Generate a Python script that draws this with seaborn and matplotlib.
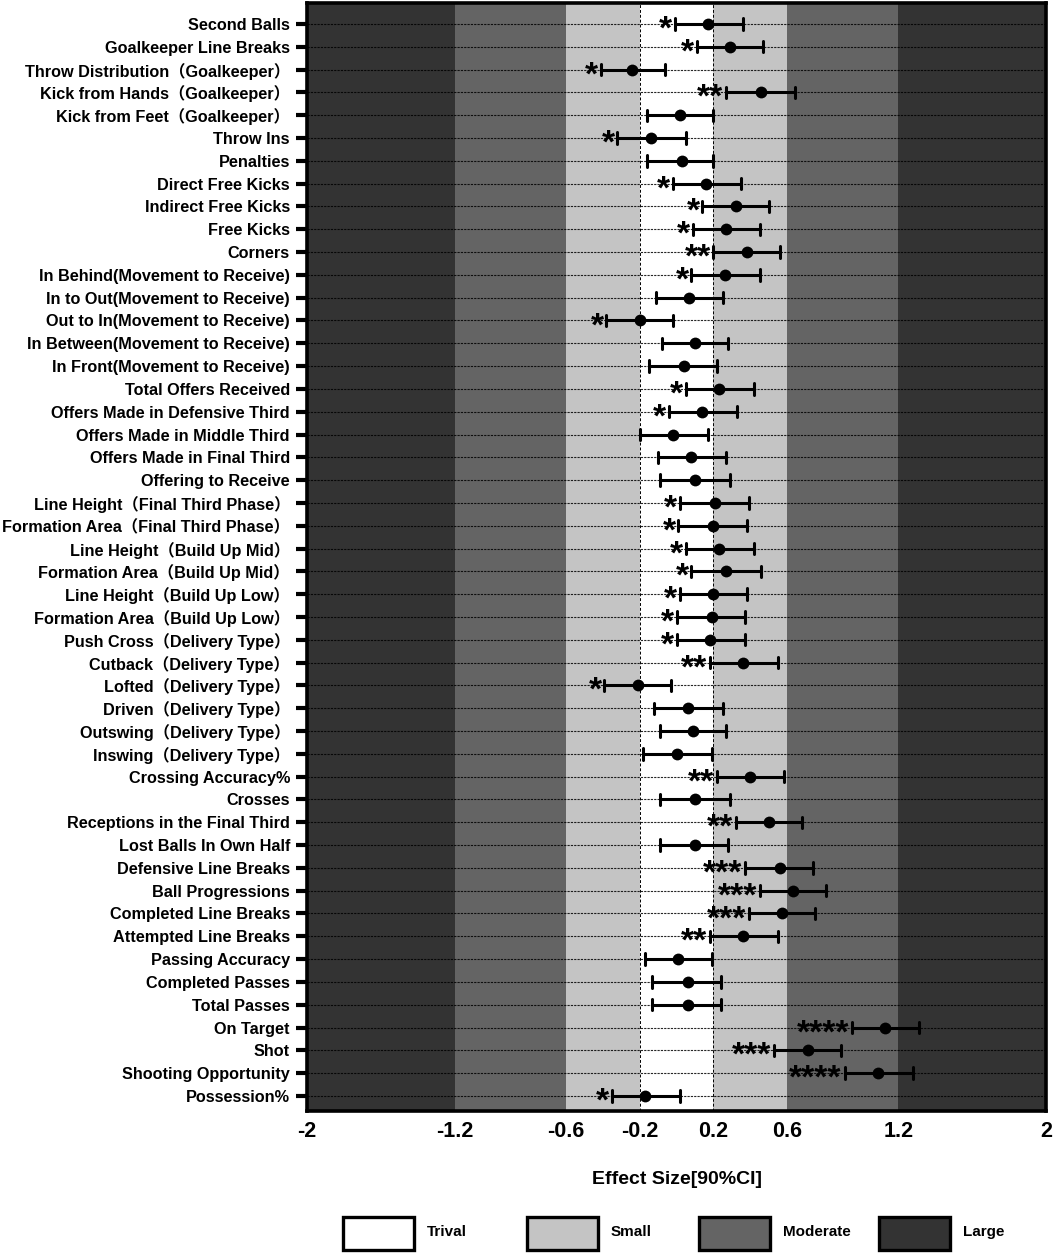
import numpy as np
import pandas as pd
import matplotlib
matplotlib.use("Agg")
import matplotlib.pyplot as plt
from matplotlib.patches import Rectangle
import seaborn as sns

metrics = [
    "Second Balls", "Goalkeeper Line Breaks", "Throw Distribution（Goalkeeper）",
    "Kick from Hands（Goalkeeper）", "Kick from Feet（Goalkeeper）", "Throw Ins",
    "Penalties", "Direct Free Kicks", "Indirect Free Kicks", "Free Kicks", "Corners",
    "In Behind(Movement to Receive)", "In to Out(Movement to Receive)",
    "Out to In(Movement to Receive)", "In Between(Movement to Receive)",
    "In Front(Movement to Receive)", "Total Offers Received",
    "Offers Made in Defensive Third", "Offers Made in Middle Third",
    "Offers Made in Final Third", "Offering to Receive",
    "Line Height（Final Third Phase）", "Formation Area（Final Third Phase）",
    "Line Height（Build Up Mid）", "Formation Area（Build Up Mid）",
    "Line Height（Build Up Low）", "Formation Area（Build Up Low）",
    "Push Cross（Delivery Type）", "Cutback（Delivery Type）", "Lofted（Delivery Type）",
    "Driven（Delivery Type）", "Outswing（Delivery Type）", "Inswing（Delivery Type）",
    "Crossing Accuracy%", "Crosses", "Receptions in the Final Third",
    "Lost Balls In Own Half", "Defensive Line Breaks", "Ball Progressions",
    "Completed Line Breaks", "Attempted Line Breaks", "Passing Accuracy",
    "Completed Passes", "Total Passes", "On Target", "Shot",
    "Shooting Opportunity", "Possession%",
]
effect = [0.17, 0.29, -0.24, 0.46, 0.02, -0.14, 0.03, 0.16, 0.32, 0.27, 0.38,
          0.26, 0.07, -0.20, 0.10, 0.04, 0.23, 0.14, -0.02, 0.08, 0.10,
          0.21, 0.20, 0.23, 0.27, 0.20, 0.19, 0.18, 0.36, -0.21, 0.06, 0.09, 0.00,
          0.40, 0.10, 0.50, 0.10, 0.56, 0.63, 0.57, 0.36, 0.01, 0.06, 0.06,
          1.13, 0.71, 1.09, -0.17]
ci_low = [-0.01, 0.11, -0.41, 0.27, -0.16, -0.32, -0.16, -0.02, 0.14, 0.09, 0.20,
          0.08, -0.11, -0.38, -0.08, -0.15, 0.05, -0.04, -0.20, -0.10, -0.09,
          0.02, 0.01, 0.05, 0.08, 0.02, 0.00, 0.00, 0.18, -0.39, -0.12, -0.09, -0.18,
          0.22, -0.09, 0.32, -0.09, 0.37, 0.45, 0.39, 0.18, -0.17, -0.13, -0.13,
          0.95, 0.53, 0.91, -0.35]
ci_high = [0.36, 0.47, -0.06, 0.64, 0.20, 0.05, 0.20, 0.35, 0.50, 0.45, 0.56,
           0.45, 0.25, -0.02, 0.28, 0.22, 0.42, 0.33, 0.17, 0.27, 0.29,
           0.39, 0.38, 0.42, 0.46, 0.38, 0.37, 0.37, 0.55, -0.03, 0.25, 0.27, 0.19,
           0.58, 0.29, 0.68, 0.28, 0.74, 0.81, 0.75, 0.55, 0.19, 0.24, 0.24,
           1.31, 0.89, 1.28, 0.02]
stars = ["*", "*", "*", "**", "", "*", "", "*", "*", "*", "**",
         "*", "", "*", "", "", "*", "*", "", "", "",
         "*", "*", "*", "*", "*", "*", "*", "**", "*", "", "", "",
         "**", "", "**", "", "***", "***", "***", "**", "", "", "",
         "****", "***", "****", "*"]

band_edges = [-2, -1.2, -0.6, -0.2, 0.2, 0.6, 1.2, 2]
band_levels = ["Large", "Moderate", "Small", "Trival", "Small", "Moderate", "Large"]
legend_labels = ["Trival", "Small", "Moderate", "Large"]
level_colors = {"Trival": "#ffffff", "Small": "#c4c4c4", "Moderate": "#646464", "Large": "#333333"}
xticks = [-2, -1.2, -0.6, -0.2, 0.2, 0.6, 1.2, 2]
xtick_labels = ["-2", "-1.2", "-0.6", "-0.2", "0.2", "0.6", "1.2", "2"]

# long-form: lower bound, estimate, upper bound per metric -> median = estimate, full range = CI
df = pd.DataFrame({
    "metric": np.repeat(metrics, 3),
    "value": np.column_stack([ci_low, effect, ci_high]).ravel(),
})

sns.set_theme(style="white")
plt.rcParams["font.family"] = ["Liberation Sans", "Noto Sans CJK SC", "DejaVu Sans"]
plt.rcParams["font.weight"] = "bold"
plt.rcParams["axes.labelweight"] = "bold"

W, H = 1053, 1253
fig = plt.figure(figsize=(W / 100, H / 100), dpi=100)
ax = fig.add_axes([307 / W, 1 - 1111 / H, (1046 - 307) / W, (1111 - 3) / H])

for (a, b), lvl in zip(zip(band_edges[:-1], band_edges[1:]), band_levels):
    ax.axvspan(a, b, color=level_colors[lvl], zorder=0, lw=0)

sns.pointplot(data=df, x="value", y="metric", order=metrics, estimator="median",
              errorbar=("pi", 100), color="black", linestyle="none", markers="o",
              capsize=0.5, err_kws={"linewidth": 2.2}, markersize=8.5,
              markeredgewidth=0, ax=ax, zorder=3)

for v in (-0.2, 0.2):
    ax.axvline(v, color="black", lw=0.7, ls=(0, (3, 2)), zorder=1)

ax.set_axisbelow(True)
ax.grid(axis="y", color="black", lw=0.8, ls=(0, (2, 1)), alpha=0.85)
ax.grid(axis="x", visible=False)

for i, (s, lo) in enumerate(zip(stars, ci_low)):
    if s:
        ax.annotate(s, xy=(lo, i), xytext=(-2, -10.5), textcoords="offset points",
                    ha="right", va="baseline", fontsize=24, fontweight="bold",
                    color="black", zorder=4, annotation_clip=False)

ax.set_xlim(-2, 2)
ax.set_ylim(len(metrics) - 1 + 0.66, -0.92)
ax.set_xticks(xticks)
ax.set_xticklabels(xtick_labels, fontsize=15.5, fontweight="bold")
ax.tick_params(axis="x", length=0, pad=7.5, colors="black")
ax.tick_params(axis="y", length=8, width=3, pad=4.3, labelsize=11.7, colors="black", left=True)
for lab in ax.get_yticklabels():
    lab.set_fontweight("bold")
ax.set_ylabel("")
ax.set_xlabel("Effect Size[90%CI]", fontsize=14, fontweight="bold", color="black")
ax.xaxis.label.set_va("center")
ax.xaxis.set_label_coords(0.5, (1111 - 1180) / 1108)
for sp in ax.spines.values():
    sp.set_visible(True)
    sp.set_color("black")
    sp.set_linewidth(2.6)

# legend row
box_lefts = [343, 526.5, 698.5, 878.5]
bw, btop, bbot = 71, 1217, 1250
for lx, lab in zip(box_lefts, legend_labels):
    fig.add_artist(Rectangle((lx / W, 1 - bbot / H), bw / W, (bbot - btop) / H,
                             transform=fig.transFigure, facecolor=level_colors[lab],
                             edgecolor="black", linewidth=2.4))
    fig.text((lx + bw + 13) / W, 1 - 1232 / H, lab, fontsize=11, fontweight="bold",
             ha="left", va="center", color="black")

fig.savefig("out.png", dpi=100)
